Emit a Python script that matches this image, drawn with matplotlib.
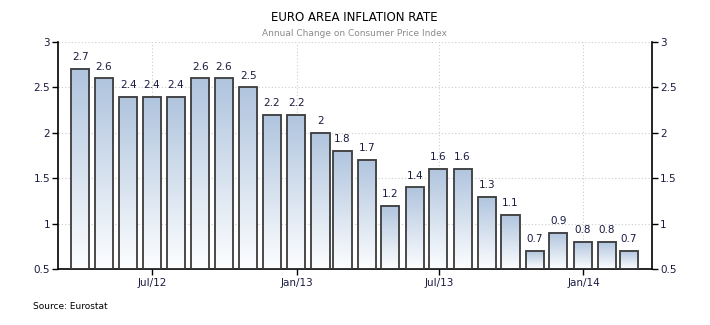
import datetime as dt
import numpy as np
import matplotlib
matplotlib.use("Agg")
import matplotlib.pyplot as plt
import matplotlib.dates as mdates

# Euro area HICP, annual rate of change (%), Mar 2012 - Feb 2014
months = ["2012-03", "2012-04", "2012-05", "2012-06", "2012-07", "2012-08",
          "2012-09", "2012-10", "2012-11", "2012-12", "2013-01", "2013-02",
          "2013-03", "2013-04", "2013-05", "2013-06", "2013-07", "2013-08",
          "2013-09", "2013-10", "2013-11", "2013-12", "2014-01", "2014-02"]
values = [2.7, 2.6, 2.4, 2.4, 2.4, 2.6, 2.6, 2.5, 2.2, 2.2, 2.0, 1.8,
          1.7, 1.2, 1.4, 1.6, 1.6, 1.3, 1.1, 0.7, 0.9, 0.8, 0.8, 0.7]
value_labels = ["2.7", "2.6", "2.4", "2.4", "2.4", "2.6", "2.6", "2.5",
                "2.2", "2.2", "2", "1.8", "1.7", "1.2", "1.4", "1.6", "1.6",
                "1.3", "1.1", "0.7", "0.9", "0.8", "0.8", "0.7"]
y_ticks = [0.5, 1, 1.5, 2, 2.5, 3]
y_tick_labels = ["0.5", "1", "1.5", "2", "2.5", "3"]
x_tick_dates = ["2012-07-01", "2013-01-01", "2013-07-01", "2014-01-01"]
x_tick_labels = ["Jul/12", "Jan/13", "Jul/13", "Jan/14"]


def month_end(s):
    y, m = map(int, s.split("-"))
    nxt = dt.date(y + (m == 12), m % 12 + 1, 1)
    return nxt - dt.timedelta(days=1)


dates = [month_end(m) for m in months]
xnum = mdates.date2num(dates)
ymin = 0.5

fig = plt.figure(figsize=(7.1, 3.25), dpi=100)
ax = fig.add_axes([0.0821, 0.1714, 0.8359, 0.6994])

text_col = "#1a1a40"
edge_col = "#3c3c3c"
top_rgb = np.array([0.69, 0.77, 0.87])
bot_rgb = np.array([0.99, 0.995, 1.0])
grad = np.linspace(0, 1, 128)[:, None]
grad_img = (bot_rgb[None, None, :] * (1 - grad[..., None]) +
            top_rgb[None, None, :] * grad[..., None])

bar_w = 23.0  # days
for x, v, lab in zip(xnum, values, value_labels):
    x0, x1 = x - bar_w / 2, x + bar_w / 2
    ax.imshow(grad_img, extent=[x0, x1, ymin, v], origin="lower",
              aspect="auto", zorder=2, interpolation="bilinear")
    ax.bar(x, v - ymin, bottom=ymin, width=bar_w, facecolor="none",
           edgecolor=edge_col, linewidth=1.3, zorder=3)
    ax.text(x, v + 0.075, lab, ha="center", va="bottom", fontsize=7.5,
            color=text_col, zorder=4)

x_lo = mdates.date2num(dt.date(2012, 3, 3))
x_hi = mdates.date2num(dt.date(2014, 3, 29))
ax.set_xlim(x_lo, x_hi)
ax.set_ylim(0.5, 3)

tick_x = mdates.date2num([dt.date.fromisoformat(d) for d in x_tick_dates])
ax.set_xticks(tick_x)
ax.set_xticklabels(x_tick_labels, fontsize=7.5, color=text_col)
ax.set_yticks(y_ticks)
ax.set_yticklabels(y_tick_labels, fontsize=7.5, color=text_col)
ax.tick_params(axis="both", length=4, width=1, colors="black",
               labelcolor=text_col, pad=2)
ax.tick_params(axis="y", left=True, right=True, labelleft=True,
               labelright=True)

ax.grid(True, linestyle=(0, (1, 2)), color="#cccccc", linewidth=0.8, zorder=0)
ax.set_axisbelow(True)
ax.spines["top"].set_visible(False)
for side in ["left", "right", "bottom"]:
    ax.spines[side].set_linewidth(1.2)
    ax.spines[side].set_color("black")

fig.text(0.4986, 0.945, "EURO AREA INFLATION RATE", ha="center", va="center",
         fontsize=8.5, color="black")
fig.text(0.4986, 0.897, "Annual Change on Consumer Price Index", ha="center",
         va="center", fontsize=6.5, color="#8a8a8a")
fig.text(0.047, 0.058, "Source: Eurostat", ha="left", va="center",
         fontsize=6.5, color="black")

fig.savefig("out.png", dpi=100, facecolor="white")
